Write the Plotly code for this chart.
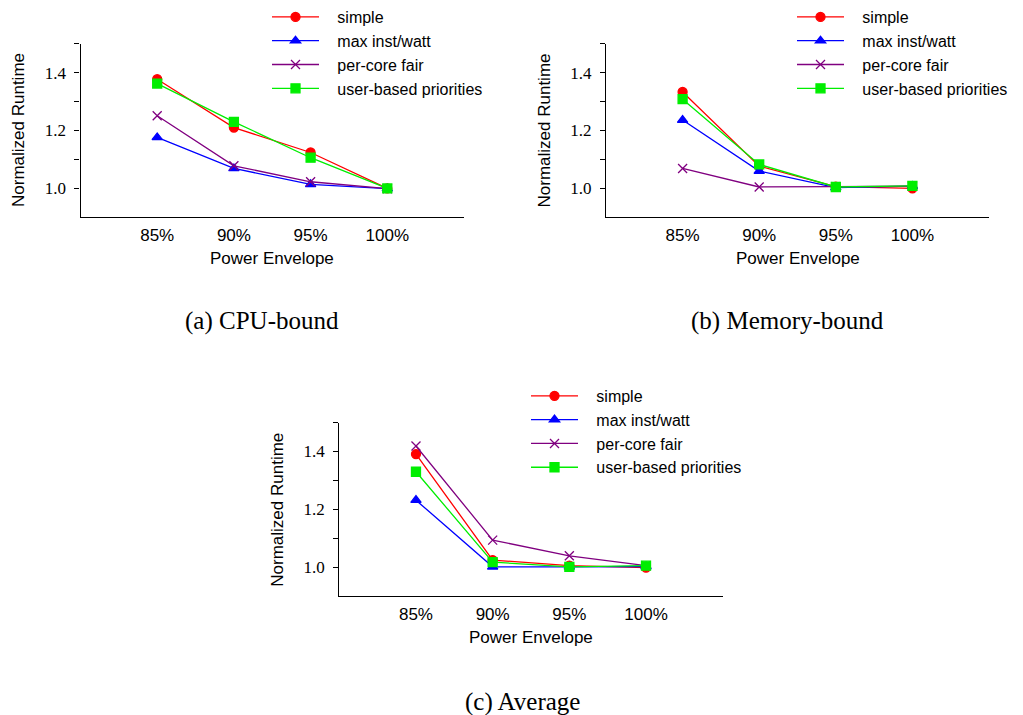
import plotly.graph_objects as go

W, H = 1023, 715

envelopes = ["85%", "90%", "95%", "100%"]
series_names = ["simple", "max inst/watt", "per-core fair", "user-based priorities"]

cpu_simple = [1.377, 1.210, 1.124, 1.000]
cpu_maxinst = [1.176, 1.069, 1.014, 0.999]
cpu_percore = [1.251, 1.078, 1.023, 0.999]
cpu_user = [1.362, 1.230, 1.106, 1.000]

mem_simple = [1.333, 1.077, 1.006, 1.000]
mem_maxinst = [1.236, 1.060, 1.003, 1.008]
mem_percore = [1.069, 1.005, 1.006, 1.008]
mem_user = [1.308, 1.083, 1.005, 1.009]

avg_simple = [1.391, 1.025, 1.006, 0.999]
avg_maxinst = [1.232, 1.002, 1.002, 1.003]
avg_percore = [1.419, 1.094, 1.040, 1.006]
avg_user = [1.330, 1.018, 1.002, 1.006]

y_tickvals = [1.0, 1.1, 1.2, 1.3, 1.4, 1.5]
y_ticktext = ["1.0", "", "1.2", "", "1.4", ""]

captions = ["(a) CPU-bound", "(b) Memory-bound", "(c) Average"]
x_title = "Power Envelope"
y_title = "Normalized Runtime"

colors = ["#FF0000", "#0000FF", "#800080", "#00EE00"]
symbols = ["circle", "triangle-up", "x-thin-open", "square"]
msizes = [9, 9, 9, 9]

panels = [
    [cpu_simple, cpu_maxinst, cpu_percore, cpu_user],
    [mem_simple, mem_maxinst, mem_percore, mem_user],
    [avg_simple, avg_maxinst, avg_percore, avg_user],
]

# panel pixel boxes: (left, right, top, bottom)
boxes = [(80.5, 464, 41.7, 216), (606, 989, 41.7, 216), (339.3, 722.7, 421.7, 596)]
legend_pos = [(267, -2), (792, -2), (526, 378)]
caption_pos = [(262, 320), (787, 320), (522, 702)]

fig = go.Figure()
SANS = "Liberation Sans, Arial, sans-serif"
SERIF = "Liberation Serif, Times New Roman, serif"
PAD = "\u00a0\u00a0\u00a0"

annotations = []
for p, data in enumerate(panels):
    sfx = "" if p == 0 else str(p + 1)
    leg = "legend" if p == 0 else "legend" + str(p + 1)
    for i, vals in enumerate(data):
        fig.add_trace(go.Scatter(
            x=envelopes, y=vals, mode="lines+markers", name=PAD + series_names[i],
            xaxis="x" + sfx, yaxis="y" + sfx, legend=leg,
            line=dict(color=colors[i], width=1.3),
            marker=dict(symbol=symbols[i], size=msizes[i], color=colors[i],
                        line=dict(color=colors[i], width=1.3)),
        ))
    l, r, t, b = boxes[p]
    fig.update_layout({
        "xaxis" + sfx: dict(domain=[l / W, r / W], anchor="y" + sfx, type="category",
                            range=[-1, 4], showline=True, linecolor="black", linewidth=1.3,
                            ticks="", showgrid=False, zeroline=False,
                            tickfont=dict(family=SANS, size=17, color="black"),
                            ticklabelstandoff=2),
        "yaxis" + sfx: dict(domain=[1 - b / H, 1 - t / H], anchor="x" + sfx,
                            range=[0.9, 1.5], showline=True, linecolor="black", linewidth=1.3,
                            ticks="outside", ticklen=5, tickwidth=1.2, tickcolor="black",
                            tickvals=y_tickvals, ticktext=y_ticktext,
                            showgrid=False, zeroline=False,
                            tickfont=dict(family=SERIF, size=17, color="black"),
                            ticklabelstandoff=5),
        leg: dict(x=legend_pos[p][0] / W, y=1 - legend_pos[p][1] / H, xanchor="left",
                  yanchor="top", bgcolor="rgba(0,0,0,0)", itemwidth=47,
                  font=dict(family=SANS, size=16, color="black"), tracegroupgap=0),
    })
    annotations.append(dict(text=x_title, x=(l + r) / 2 / W, y=1 - (b + 41) / H,
                            xref="paper", yref="paper", showarrow=False,
                            font=dict(family=SANS, size=17, color="black"),
                            xanchor="center", yanchor="middle"))
    annotations.append(dict(text=y_title, x=(l - 62) / W, y=1 - (t + b) / 2 / H,
                            xref="paper", yref="paper", showarrow=False, textangle=-90,
                            font=dict(family=SANS, size=17, color="black"),
                            xanchor="center", yanchor="middle"))
    annotations.append(dict(text=captions[p], x=caption_pos[p][0] / W, y=1 - caption_pos[p][1] / H,
                            xref="paper", yref="paper", showarrow=False,
                            font=dict(family=SERIF, size=25, color="black"),
                            xanchor="center", yanchor="middle"))

fig.update_layout(
    width=W, height=H, margin=dict(l=0, r=0, t=0, b=0),
    paper_bgcolor="white", plot_bgcolor="white",
    annotations=annotations, showlegend=True,
)

fig.write_html("out.html", config={"displayModeBar": False},
               post_script="document.body.style.margin='0px';document.body.style.overflow='hidden';")
